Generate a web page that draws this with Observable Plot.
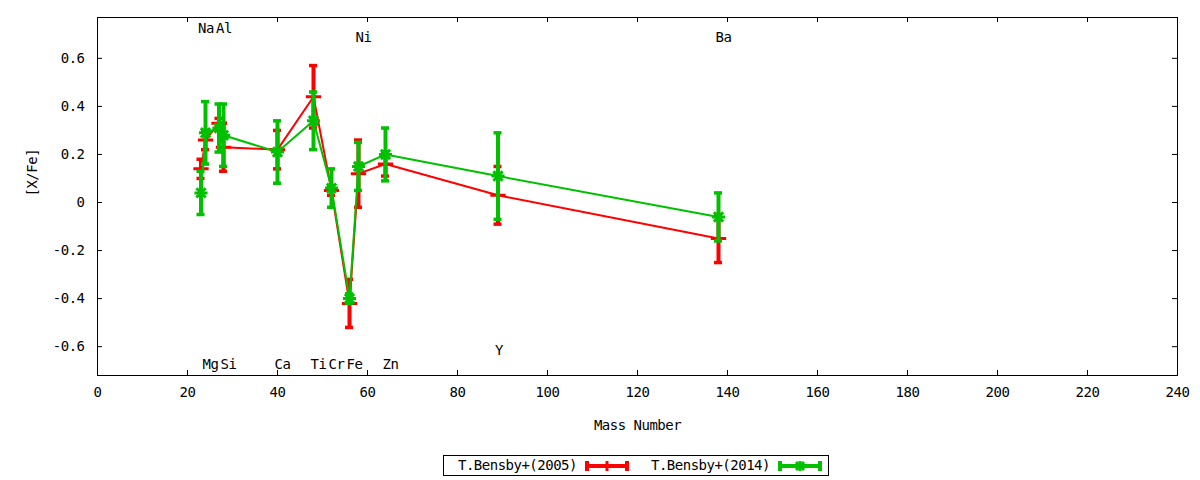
<!DOCTYPE html>
<html>
<head>
<meta charset="utf-8">
<script src="https://cdn.jsdelivr.net/npm/d3@7"></script>
<script src="https://cdn.jsdelivr.net/npm/@observablehq/plot@0.6"></script>
<style>
  html, body { margin: 0; padding: 0; background: white; }
  #wrap { position: relative; width: 1200px; height: 480px; font-family: 'DejaVu Sans Mono', monospace; font-size: 14px; letter-spacing: -0.5px; }
  #legend { position: absolute; left: 443px; top: 455px; width: 386px; height: 21px; box-sizing: border-box; border: 1px solid black; }
  #legend .t { position: absolute; top: 0; line-height: 19px; white-space: nowrap; }
  #legend svg { position: absolute; top: 3px; }
</style>
</head>
<body>
<div id="wrap">
  <div id="chart"></div>
  <div id="legend"></div>
</div>
<script>
// ---- data ----
const elements   = ["Na", "Mg", "Al", "Si", "Ca", "Ti", "Cr", "Fe", "Ni", "Zn", "Y", "Ba"];
const massNumber = [23, 24, 27, 28, 40, 48, 52, 56, 58, 64, 89, 138];
const bensby2005 = [0.14, 0.26, 0.33, 0.23, 0.22, 0.44, 0.05, -0.42, 0.12, 0.16, 0.03, -0.15];
const err2005    = [0.04, 0.04, 0.02, 0.10, 0.08, 0.13, 0.02, 0.10, 0.14, 0.05, 0.12, 0.10];
const bensby2014 = [0.04, 0.29, 0.31, 0.28, 0.21, 0.34, 0.06, -0.40, 0.15, 0.20, 0.11, -0.06];
const err2014    = [0.09, 0.13, 0.10, 0.13, 0.13, 0.12, 0.08, 0.02, 0.10, 0.11, 0.18, 0.10];
const labelY     = [0.73, -0.67, 0.73, -0.67, -0.67, -0.67, -0.67, -0.67, 0.69, -0.67, -0.61, 0.69];
const seriesNames = ["T.Bensby+(2005)", "T.Bensby+(2014)"];
const xTicks = [0, 20, 40, 60, 80, 100, 120, 140, 160, 180, 200, 220, 240];
const yTicks = [-0.6, -0.4, -0.2, 0, 0.2, 0.4, 0.6];
const xDomain = [0, 240];
const yDomain = [-0.72, 0.77];

// ---- layout ----
const RED = "#ff0000", GREEN = "#00c000";
const W = 1200, H = 445, mL = 97, mR = 23, mT = 17, mB = 70;
const plotW = W - mL - mR, plotH = H - mT - mB;
const tickLen = 5;
const capHalf = 4 * (xDomain[1] - xDomain[0]) / plotW;

const rows05 = elements.map((el, i) => ({el, m: massNumber[i], v: bensby2005[i], e: err2005[i]}));
const rows14 = elements.map((el, i) => ({el, m: massNumber[i], v: bensby2014[i], e: err2014[i]}));
const labelRows = elements.map((el, i) => ({el, m: massNumber[i], y: labelY[i]}));

function series(rows, color, symbols, r) {
  return [
    Plot.line(rows, {x: "m", y: "v", stroke: color, strokeWidth: 2}),
    Plot.ruleX(rows, {x: "m", y1: d => d.v - d.e, y2: d => d.v + d.e, stroke: color, strokeWidth: 4}),
    Plot.ruleY(rows, {y: d => d.v - d.e, x1: d => d.m - capHalf, x2: d => d.m + capHalf, stroke: color, strokeWidth: 3.5}),
    Plot.ruleY(rows, {y: d => d.v + d.e, x1: d => d.m - capHalf, x2: d => d.m + capHalf, stroke: color, strokeWidth: 3.5}),
    ...symbols.map(s => Plot.dot(rows, {x: "m", y: "v", symbol: s, r, stroke: color, strokeWidth: 3}))
  ];
}

const chart = Plot.plot({
  width: W, height: H,
  marginLeft: mL, marginRight: mR, marginTop: mT, marginBottom: mB,
  style: {fontFamily: "'DejaVu Sans Mono', monospace", fontSize: "14px", background: "white", color: "black", letterSpacing: "-0.5px"},
  x: {domain: xDomain},
  y: {domain: yDomain},
  marks: [
    Plot.axisX({ticks: xTicks, tickSize: 0, tickPadding: 12, label: null, tickFormat: d => String(d)}),
    Plot.axisY({ticks: yTicks, tickSize: 0, tickPadding: 13, label: null, tickFormat: d => d === 0 ? "0" : d.toFixed(1)}),
    Plot.ruleX(xTicks, {x: d => d, insetTop: plotH - tickLen, stroke: "black"}),
    Plot.ruleX(xTicks, {x: d => d, insetBottom: plotH - tickLen, stroke: "black"}),
    Plot.ruleY(yTicks, {y: d => d, insetRight: plotW - tickLen, stroke: "black"}),
    Plot.ruleY(yTicks, {y: d => d, insetLeft: plotW - tickLen, stroke: "black"}),
    Plot.frame({stroke: "black", strokeWidth: 1}),
    Plot.text(labelRows, {x: "m", y: "y", text: "el", textAnchor: "start", dx: -3, dy: 1, fill: "black"}),
    ...series(rows05, RED, ["plus"], 5),
    ...series(rows14, GREEN, ["plus", "times"], 4.3),
    Plot.text(["Mass Number"], {text: d => d, frameAnchor: "bottom", dy: 54, fill: "black"}),
    Plot.text(["[X/Fe]"], {text: d => d, frameAnchor: "left", dx: -65, rotate: -90, fill: "black"})
  ]
});
document.getElementById("chart").appendChild(chart);

// ---- legend ----
function sample(color, star) {
  const mid = star
    ? `<line x1="22" y1="2" x2="22" y2="12" stroke="${color}" stroke-width="3"/><line x1="18" y1="3" x2="26" y2="11" stroke="${color}" stroke-width="3"/><line x1="18" y1="11" x2="26" y2="3" stroke="${color}" stroke-width="3"/>`
    : `<line x1="22" y1="2" x2="22" y2="12" stroke="${color}" stroke-width="3"/>`;
  return `<svg width="44" height="14" viewBox="0 0 44 14">
    <line x1="0" y1="7" x2="44" y2="7" stroke="${color}" stroke-width="4"/>
    <line x1="2" y1="2" x2="2" y2="12" stroke="${color}" stroke-width="4"/>
    <line x1="42" y1="2" x2="42" y2="12" stroke="${color}" stroke-width="4"/>
    ${mid}</svg>`;
}
const legend = document.getElementById("legend");
legend.innerHTML =
  `<span class="t" style="left:14px">${seriesNames[0]}</span>` +
  `<div style="position:absolute;left:141px;top:0">${sample(RED, false)}</div>` +
  `<span class="t" style="left:207px">${seriesNames[1]}</span>` +
  `<div style="position:absolute;left:334px;top:0">${sample(GREEN, true)}</div>`;
</script>
</body>
</html>
